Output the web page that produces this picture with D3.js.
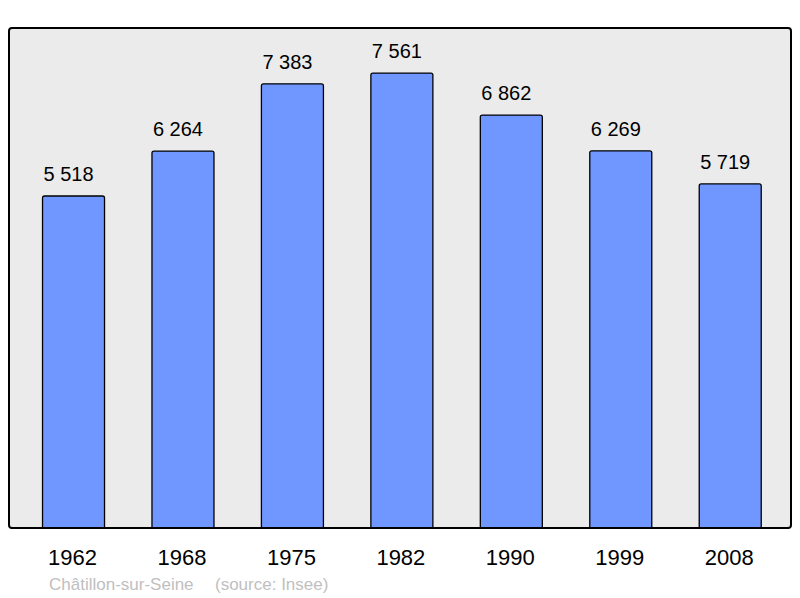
<!DOCTYPE html>
<html><head><meta charset="utf-8">
<script src="https://cdn.jsdelivr.net/npm/d3@7"></script>
<style>body{margin:0;background:#fff}svg{display:block}</style>
</head><body>
<script>
const years = ["1962","1968","1975","1982","1990","1999","2008"];
const population = [5518, 6264, 7383, 7561, 6862, 6269, 5719];
const valueLabels = ["5 518","6 264","7 383","7 561","6 862","6 269","5 719"];
const footerName = "Châtillon-sur-Seine";
const footerSource = "(source: Insee)";

const W = 800, H = 598;
const svg = d3.select("body").append("svg").attr("width", W).attr("height", H);
const plot = {x0: 9, x1: 791, y0: 28, y1: 528};

svg.append("defs").append("clipPath").attr("id", "clip")
  .append("rect").attr("x", 0).attr("y", 0).attr("width", W).attr("height", plot.y1);

svg.append("rect").attr("x", plot.x0).attr("y", plot.y0)
  .attr("width", plot.x1 - plot.x0).attr("height", plot.y1 - plot.y0)
  .attr("rx", 3).attr("fill", "#ebebeb").attr("stroke", "#000").attr("stroke-width", 2);

const x = d3.scaleBand().domain(years).range([18.8, 784.95]).paddingInner(0.4335).paddingOuter(0.21675);
const y = d3.scaleLinear().domain([0, 8310]).range([plot.y1, plot.y0]);

svg.append("g").attr("clip-path", "url(#clip)")
  .selectAll("rect.bar").data(years).enter().append("rect").attr("class", "bar")
  .attr("x", d => x(d)).attr("width", x.bandwidth())
  .attr("y", (d, i) => y(population[i])).attr("height", (d, i) => plot.y1 - y(population[i]) + 4)
  .attr("rx", 2).attr("fill", "#7096ff").attr("stroke", "#000").attr("stroke-width", 1.3);

svg.append("line").attr("x1", plot.x0 + 2).attr("x2", plot.x1 - 2)
  .attr("y1", plot.y1).attr("y2", plot.y1).attr("stroke", "#000").attr("stroke-width", 2);

svg.selectAll("text.val").data(years).enter().append("text").attr("class", "val")
  .attr("x", d => x(d) + x.bandwidth() / 2 - 5)
  .attr("y", (d, i) => y(population[i]) - 15)
  .attr("text-anchor", "middle").attr("font-family", "Liberation Sans, Arial, sans-serif")
  .attr("font-size", 20).attr("fill", "#000").text((d, i) => valueLabels[i]);

svg.selectAll("text.year").data(years).enter().append("text").attr("class", "year")
  .attr("x", d => x(d) + x.bandwidth() / 2 - 1).attr("y", 565)
  .attr("text-anchor", "middle").attr("font-family", "Liberation Sans, Arial, sans-serif")
  .attr("font-size", 22).attr("fill", "#000").text(d => d);

const ft = svg.append("text").attr("y", 590)
  .attr("font-family", "Liberation Sans, Arial, sans-serif").attr("font-size", 17)
  .attr("fill", "#c0c0c0");
ft.append("tspan").attr("x", 49).text(footerName);
ft.append("tspan").attr("x", 215).text(footerSource);
</script>
</body></html>
